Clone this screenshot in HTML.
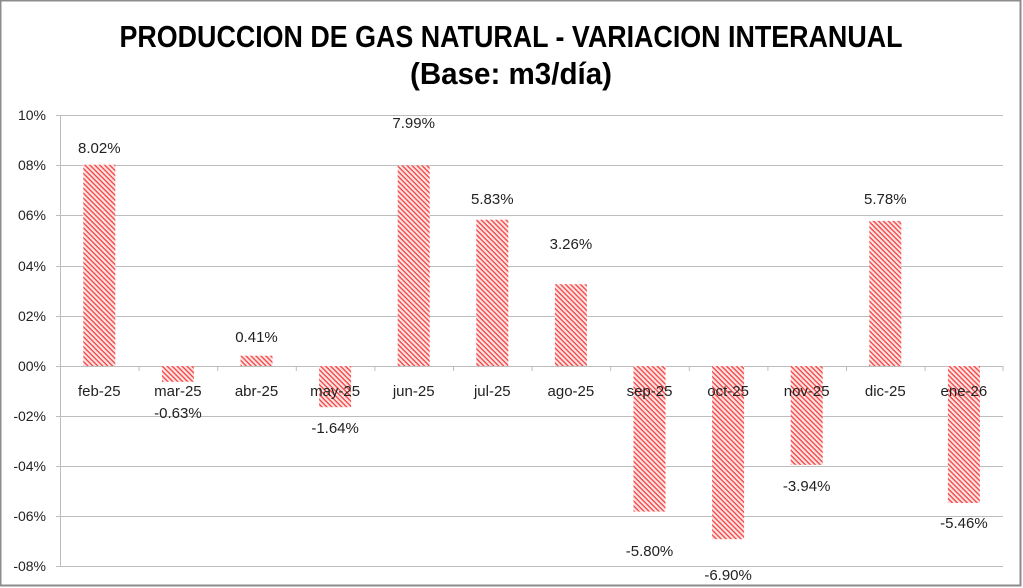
<!DOCTYPE html>
<html><head><meta charset="utf-8"><style>
html,body{margin:0;padding:0;background:#fff}
svg{display:block}
text{font-family:"Liberation Sans",sans-serif}
</style></head><body>
<svg width="1023" height="588" viewBox="0 0 1023 588" xmlns="http://www.w3.org/2000/svg">
<defs>
<pattern id="h" patternUnits="userSpaceOnUse" width="3.5" height="3.5" patternTransform="rotate(45)">
<rect width="3.5" height="3.5" fill="#ffe4e4"/>
<rect x="0" y="0" width="3.5" height="1.3" fill="#f24040"/>
</pattern>
</defs>
<rect x="0.5" y="0.5" width="1020" height="585" fill="#fff" stroke="#8c8c8c" stroke-width="2"/>
<text x="511" y="47" font-size="31" font-weight="bold" text-anchor="middle" textLength="783" lengthAdjust="spacingAndGlyphs">PRODUCCION DE GAS NATURAL - VARIACION INTERANUAL</text>
<text x="511" y="84" font-size="31" font-weight="bold" text-anchor="middle" textLength="202" lengthAdjust="spacingAndGlyphs">(Base: m3/día)</text>
<g stroke="#bdbdbd" stroke-width="1">
<line x1="56" y1="115.5" x2="1003" y2="115.5"/>
<line x1="56" y1="165.5" x2="1003" y2="165.5"/>
<line x1="56" y1="215.5" x2="1003" y2="215.5"/>
<line x1="56" y1="266.5" x2="1003" y2="266.5"/>
<line x1="56" y1="316.5" x2="1003" y2="316.5"/>
<line x1="56" y1="416.5" x2="1003" y2="416.5"/>
<line x1="56" y1="466.5" x2="1003" y2="466.5"/>
<line x1="56" y1="516.5" x2="1003" y2="516.5"/>
<line x1="56" y1="566.5" x2="1003" y2="566.5"/>
<line x1="60.5" y1="115" x2="60.5" y2="567"/>
<line x1="56" y1="366.5" x2="1003" y2="366.5"/>
</g>
<g stroke="#bdbdbd">
<line x1="139.1" y1="366" x2="139.1" y2="371"/><line x1="217.7" y1="366" x2="217.7" y2="371"/><line x1="296.3" y1="366" x2="296.3" y2="371"/><line x1="374.9" y1="366" x2="374.9" y2="371"/><line x1="453.5" y1="366" x2="453.5" y2="371"/><line x1="532.1" y1="366" x2="532.1" y2="371"/><line x1="610.7" y1="366" x2="610.7" y2="371"/><line x1="689.3" y1="366" x2="689.3" y2="371"/><line x1="767.9" y1="366" x2="767.9" y2="371"/><line x1="846.5" y1="366" x2="846.5" y2="371"/><line x1="925.1" y1="366" x2="925.1" y2="371"/><line x1="1003" y1="366" x2="1003" y2="371"/>
</g>
<g font-size="14" fill="#222" text-anchor="end">
<text x="46" y="120">10%</text><text x="46" y="170">08%</text><text x="46" y="220">06%</text><text x="46" y="271">04%</text><text x="46" y="321">02%</text><text x="46" y="371">00%</text><text x="46" y="421">-02%</text><text x="46" y="471">-04%</text><text x="46" y="521">-06%</text><text x="46" y="571">-08%</text>
</g>
<g fill="url(#h)">
<rect x="83.3" y="164.7" width="32" height="201.3"/>
<rect x="161.9" y="366" width="32" height="15.8"/>
<rect x="240.5" y="355.7" width="32" height="10.3"/>
<rect x="319.1" y="366" width="32" height="41.2"/>
<rect x="397.7" y="165.5" width="32" height="200.5"/>
<rect x="476.3" y="219.7" width="32" height="146.3"/>
<rect x="554.9" y="284.2" width="32" height="81.8"/>
<rect x="633.5" y="366" width="32" height="145.6"/>
<rect x="712.1" y="366" width="32" height="173.2"/>
<rect x="790.7" y="366" width="32" height="98.9"/>
<rect x="869.3" y="220.9" width="32" height="145.1"/>
<rect x="947.9" y="366" width="32" height="137"/>
</g>
<g font-size="15" fill="#222" text-anchor="middle">
<text x="99.3" y="396">feb-25</text><text x="177.9" y="396">mar-25</text><text x="256.5" y="396">abr-25</text><text x="335.1" y="396">may-25</text><text x="413.7" y="396">jun-25</text><text x="492.3" y="396">jul-25</text><text x="570.9" y="396">ago-25</text><text x="649.5" y="396">sep-25</text><text x="728.1" y="396">oct-25</text><text x="806.7" y="396">nov-25</text><text x="885.3" y="396">dic-25</text><text x="963.9" y="396">ene-26</text>
<text x="99.3" y="153">8.02%</text>
<text x="177.9" y="418">-0.63%</text>
<text x="256.5" y="342">0.41%</text>
<text x="335.1" y="433">-1.64%</text>
<text x="413.7" y="128">7.99%</text>
<text x="492.3" y="204">5.83%</text>
<text x="570.9" y="249">3.26%</text>
<text x="649.5" y="556">-5.80%</text>
<text x="728.1" y="580">-6.90%</text>
<text x="806.7" y="491">-3.94%</text>
<text x="885.3" y="204">5.78%</text>
<text x="963.9" y="528">-5.46%</text>
</g>
</svg>
</body></html>
